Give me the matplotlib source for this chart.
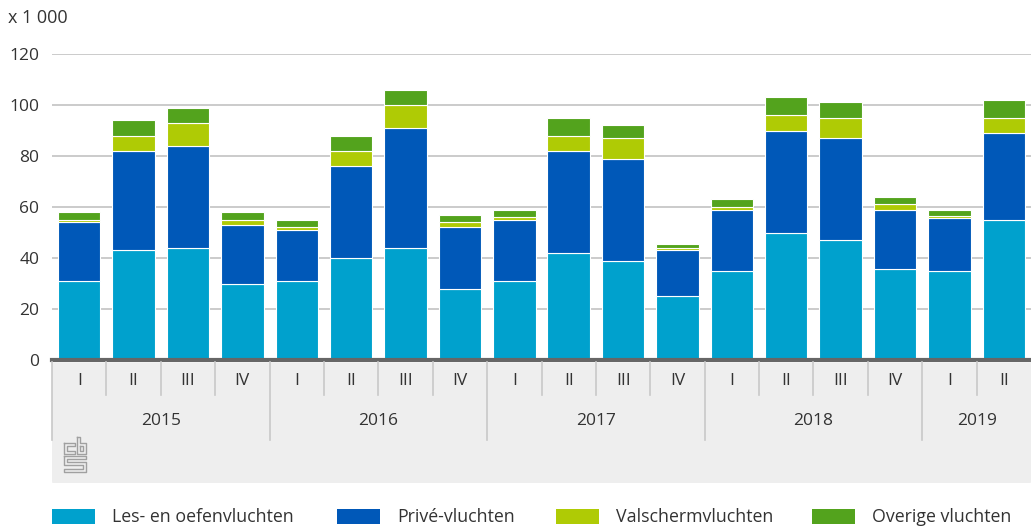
import numpy as np
import matplotlib
matplotlib.use("Agg")
import matplotlib.pyplot as plt
import matplotlib.transforms as mtransforms
from matplotlib.patches import FancyBboxPatch, Rectangle

# --- data (x 1 000 vluchten) ---
kwartalen = ["I", "II", "III", "IV", "I", "II", "III", "IV", "I", "II", "III", "IV",
             "I", "II", "III", "IV", "I", "II"]
jaren = ["2015", "2016", "2017", "2018", "2019"]
jaar_aantal = [4, 4, 4, 4, 2]

les_oefen = [31, 43, 44, 30, 31, 40, 44, 28, 31, 42, 39, 25, 35, 50, 47, 35.5, 35, 55]
prive = [23, 39, 40, 23, 20, 36, 47, 24, 24, 40, 40, 18, 24, 40, 40, 23.5, 20.5, 34]
valscherm = [1, 6, 9, 2, 1, 6, 9, 2, 1, 6, 8, 1, 1, 6, 8, 2, 1, 6]
overige = [3, 6, 6, 3, 3, 6, 6, 3, 3, 7, 5, 1.5, 3, 7, 6, 3, 2.5, 7]

series = [les_oefen, prive, valscherm, overige]
namen = ["Les- en oefenvluchten", "Privé-vluchten", "Valschermvluchten", "Overige vluchten"]
kleuren = ["#00A1CD", "#0058B8", "#AFCB05", "#53A31D"]

W, H = 1031, 532
TEKST = "#333333"
plt.rcParams["font.family"] = ["Open Sans", "DejaVu Sans"]

fig = plt.figure(figsize=(W / 100, H / 100), dpi=100)
ax = fig.add_axes([52 / W, 1 - 360 / H, (W - 52) / W, (360 - 54) / H])

x = np.arange(len(kwartalen))
onder = np.zeros(len(x))
for waarden, kleur in zip(series, kleuren):
    ax.bar(x, waarden, bottom=onder, width=0.78, color=kleur,
           edgecolor="white", linewidth=0.8, zorder=3)
    onder += np.array(waarden)

ax.set_xlim(-0.5, len(x) - 0.5)
ax.set_ylim(0, 120)
ax.set_yticks(range(0, 121, 20))
ax.set_xticks([])
ax.tick_params(axis="y", length=0, pad=9, labelsize=12.5, labelcolor=TEKST)
for s in ax.spines.values():
    s.set_visible(False)
ax.grid(axis="y", color="#BDBDBD", linewidth=1.1, zorder=0)
ax.axhline(0, color="#666666", linewidth=3, zorder=4, clip_on=False)

fig.text(8 / W, 1 - 18 / H, "x 1 000", fontsize=13, color=TEKST, va="center")


def fy(py):
    return 1 - py / H


# category area under the axis
trans = mtransforms.blended_transform_factory(ax.transData, fig.transFigure)
achtergrond = FancyBboxPatch((-0.5, fy(483)), len(x), fy(363) - fy(483),
                             boxstyle="round,pad=0,rounding_size=0.008",
                             transform=trans, facecolor="#EEEEEE",
                             edgecolor="none", clip_on=False, zorder=0,
                             mutation_aspect=1)
fig.patches.append(achtergrond)

for i, q in enumerate(kwartalen):
    fig.text(i, fy(381), q, transform=trans, ha="center", va="center",
             fontsize=12.5, color=TEKST)

grenzen = np.cumsum(jaar_aantal)
for i in range(len(x) + 1):
    xpos = i - 0.5
    if i == 0 or i in grenzen[:-1]:
        lijn = plt.Line2D([xpos, xpos], [fy(362), fy(440)], transform=trans,
                          color="#C8C8C8", linewidth=1.2)
    elif i < len(x):
        lijn = plt.Line2D([xpos, xpos], [fy(362), fy(395)], transform=trans,
                          color="#C8C8C8", linewidth=1.2)
    else:
        continue
    fig.lines.append(lijn)

start = 0
for jaar, n in zip(jaren, jaar_aantal):
    fig.text(start + (n - 1) / 2, fy(421), jaar, transform=trans, ha="center",
             va="center", fontsize=12.5, color=TEKST)
    start += n

# rough cbs logo
logo = [
    [(64, 443), (75, 443), (75, 446), (67, 446), (67, 451), (75, 451), (75, 454), (64, 454), (64, 443)],
    [(77, 437), (80, 437), (80, 443), (86, 443), (86, 454), (77, 454), (77, 437)],
    [(80, 446), (83, 446), (83, 451), (80, 451), (80, 446)],
    [(64, 456), (86, 456), (86, 459), (67, 459), (67, 462), (86, 462), (86, 472), (64, 472),
     (64, 469), (83, 469), (83, 465), (64, 465), (64, 456)],
]
for pad in logo:
    px = [p[0] / W for p in pad]
    py = [fy(p[1]) for p in pad]
    fig.lines.append(plt.Line2D(px, py, transform=fig.transFigure,
                                color="#A0A0A0", linewidth=1.0))

# legend
legenda_x = [52, 337, 556, 812]
for lx, naam, kleur in zip(legenda_x, namen, kleuren):
    fig.patches.append(Rectangle((lx / W, fy(524)), 43 / W, 15 / H,
                                 transform=fig.transFigure, facecolor=kleur,
                                 edgecolor="none"))
    fig.text((lx + 60) / W, fy(517), naam, fontsize=12.8, color=TEKST, va="center")

fig.savefig("out.png", dpi=100)
